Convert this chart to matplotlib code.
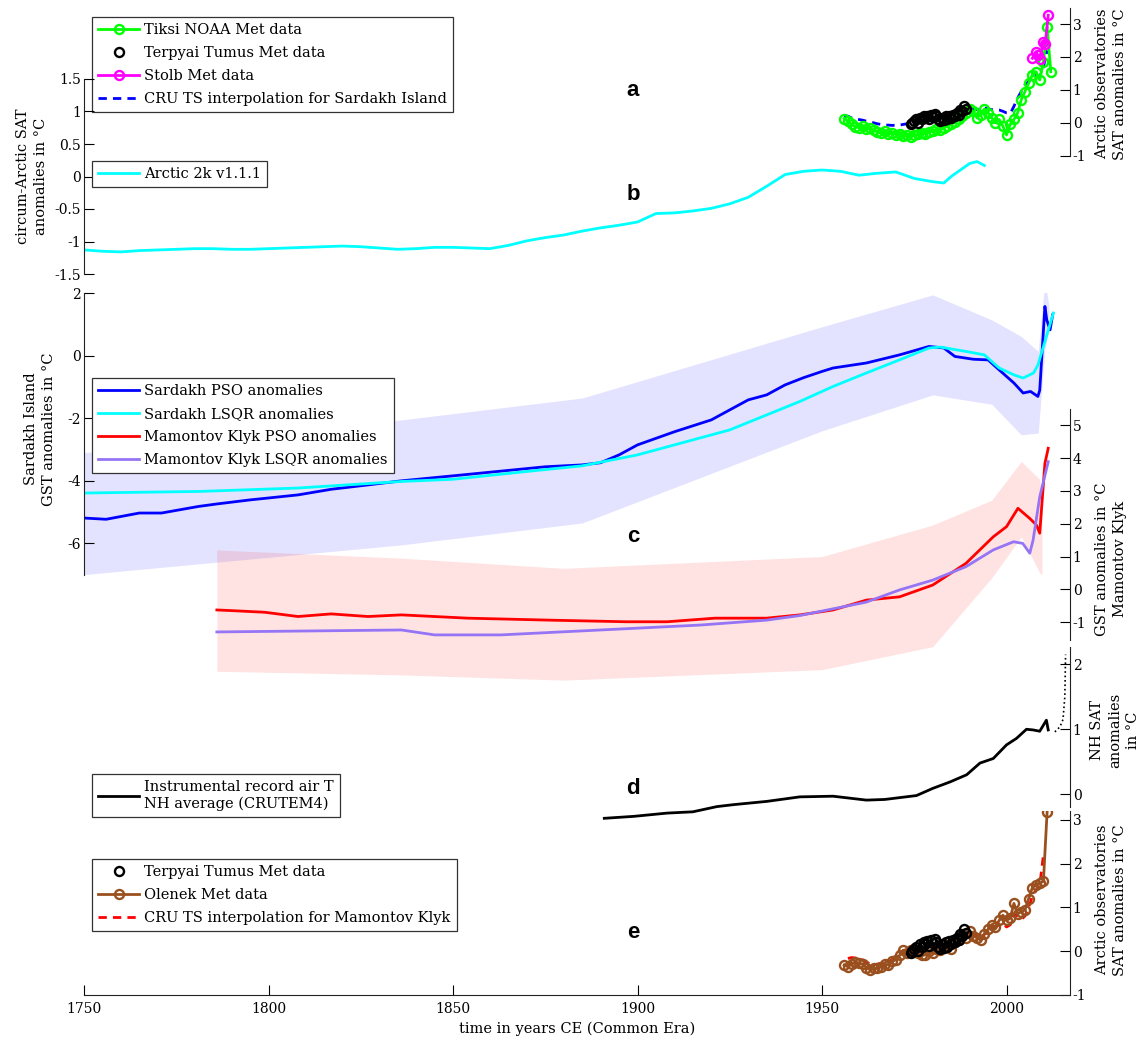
import matplotlib.pyplot as plt
import numpy as np
from matplotlib.ticker import FuncFormatter
from matplotlib.lines import Line2D

plt.rcParams['font.family'] = ['DejaVu Serif']
plt.rcParams['axes.unicode_minus'] = False

W, H = 1143, 1041
X0, X1 = 84, 1070
XLIM = (1750, 2017.2)

# ---- panel a : Arctic observatories near Sardakh ----
tiksi_years = np.arange(1956, 2013)
tiksi = [0.13, 0.05, -0.05, -0.12, -0.15, -0.10, -0.20, -0.17, -0.22, -0.28,
         -0.32, -0.25, -0.35, -0.30, -0.36, -0.33, -0.40, -0.38, -0.42, -0.38,
         -0.35, -0.30, -0.33, -0.28, -0.25, -0.20, -0.22, -0.15, -0.10, -0.05,
         0.02, 0.10, 0.20, 0.30, 0.42, 0.35, 0.15, 0.25, 0.42, 0.30,
         0.15, 0.00, 0.10, -0.10, -0.37, -0.05, 0.10, 0.30, 0.70, 0.95,
         1.20, 1.45, 1.55, 1.30, 1.85, 2.92, 1.55]
terpyai_years = np.arange(1974.0, 1989.5, 0.5)
terpyai = [-0.05, 0.00, 0.05, 0.10, 0.00, 0.15, 0.10, 0.20, 0.15, 0.22,
           0.12, 0.25, 0.18, 0.28, 0.20, 0.10, 0.05, 0.15, 0.08, 0.20,
           0.10, 0.22, 0.15, 0.25, 0.20, 0.30, 0.25, 0.38, 0.35, 0.50, 0.42]
stolb_years = [2007, 2008, 2008.5, 2009, 2010, 2010.5, 2011.3]
stolb = [1.96, 2.16, 2.05, 1.95, 2.46, 2.40, 3.27]
cru_sar_years = np.arange(1956, 2012)
cru_sar = [0.22, 0.20, 0.15, 0.12, 0.10, 0.08, 0.05, 0.03, 0.00, -0.03,
           -0.05, -0.07, -0.07, -0.08, -0.07, -0.07, -0.05, -0.03, 0.00, 0.02,
           0.05, 0.07, 0.10, 0.10, 0.12, 0.12, 0.15, 0.15, 0.18, 0.20,
           0.22, 0.25, 0.30, 0.35, 0.40, 0.42, 0.40, 0.44, 0.45, 0.42,
           0.40, 0.40, 0.39, 0.35, 0.30, 0.28, 0.50, 0.75, 0.95, 1.15,
           1.25, 1.35, 1.45, 1.40, 1.70, 2.20]

# ---- panel b : Arctic 2k ----
a2k_years = [1750, 1755, 1760, 1765, 1770, 1775, 1780, 1785, 1790, 1795,
             1800, 1805, 1810, 1815, 1820, 1825, 1830, 1835, 1840, 1845,
             1850, 1855, 1860, 1865, 1870, 1875, 1880, 1885, 1890, 1895,
             1900, 1905, 1910, 1915, 1920, 1925, 1930, 1935, 1940, 1945,
             1950, 1955, 1960, 1965, 1970, 1975, 1980, 1983, 1985, 1990,
             1992, 1994]
a2k = [-1.13, -1.15, -1.16, -1.14, -1.13, -1.12, -1.11, -1.11, -1.12, -1.12,
       -1.11, -1.10, -1.09, -1.08, -1.07, -1.08, -1.10, -1.12, -1.11, -1.09,
       -1.09, -1.10, -1.11, -1.06, -0.99, -0.94, -0.90, -0.84, -0.79, -0.75,
       -0.70, -0.57, -0.56, -0.53, -0.49, -0.42, -0.32, -0.15, 0.03, 0.08,
       0.10, 0.08, 0.02, 0.05, 0.07, -0.03, -0.08, -0.10, 0.00, 0.20,
       0.23, 0.17]

# ---- panel c : borehole GST reconstructions ----
sar_band_years = [1750, 1836, 1885, 1950, 1980, 1996, 2004, 2008.6, 2010.4, 2011.5]
sar_band_lo = [-7.0, -6.05, -5.35, -2.40, -1.25, -1.55, -2.53, -2.47, 0.2, 0.9]
sar_band_hi = [-3.1, -2.05, -1.35, 0.93, 1.95, 1.15, 0.62, 0.14, 2.43, 1.6]

sar_pso_years = [1750, 1756, 1765, 1771, 1781, 1786, 1795, 1808, 1817, 1827,
                 1836, 1850, 1875, 1885, 1890, 1895, 1900, 1910, 1920, 1925,
                 1930, 1935, 1940, 1945, 1950, 1953, 1962, 1971, 1979, 1983,
                 1986, 1991, 1995, 1998, 2002, 2004.5, 2006.5, 2008.5, 2009,
                 2010.4, 2010.9, 2011.8, 2012.5]
sar_pso = [-5.19, -5.23, -5.03, -5.03, -4.82, -4.74, -4.61, -4.45, -4.27, -4.13,
           -4.00, -3.84, -3.55, -3.49, -3.42, -3.17, -2.85, -2.43, -2.05, -1.73,
           -1.41, -1.25, -0.93, -0.70, -0.50, -0.39, -0.23, 0.03, 0.30, 0.25,
           -0.02, -0.11, -0.13, -0.45, -0.87, -1.19, -1.14, -1.30, -1.10,
           1.58, 1.15, 0.83, 1.31]
sar_lsqr_years = [1750, 1781, 1808, 1836, 1850, 1870, 1885, 1900, 1925, 1944,
                  1953, 1962, 1971, 1979, 1982, 1989, 1994, 1998, 2002, 2004.5,
                  2007.3, 2008.5, 2010, 2012.7]
sar_lsqr = [-4.39, -4.34, -4.23, -4.02, -3.95, -3.70, -3.52, -3.17, -2.37, -1.46,
            -0.98, -0.55, -0.13, 0.25, 0.28, 0.14, 0.03, -0.39, -0.61, -0.71,
            -0.55, -0.30, 0.30, 1.37]

mk_band_years = [1786, 1836, 1880, 1950, 1980, 1996, 2004, 2009, 2009.6]
mk_band_lo = [-2.50, -2.61, -2.77, -2.45, -1.75, 0.35, 1.60, 0.50, 0.44]
mk_band_hi = [1.20, 0.95, 0.64, 1.00, 1.96, 2.72, 3.90, 3.35, 2.60]

mk_pso_years = [1786, 1790, 1799, 1808, 1817, 1827, 1836, 1854, 1876, 1897,
                1908, 1921, 1935, 1944, 1953, 1962, 1971, 1980, 1989, 1996.4,
                2000, 2003.1, 2006.3, 2008.1, 2009, 2010.4, 2011.3]
mk_pso = [-0.63, -0.65, -0.70, -0.83, -0.75, -0.83, -0.78, -0.88, -0.94, -0.99,
          -0.99, -0.88, -0.88, -0.78, -0.63, -0.33, -0.23, 0.13, 0.79, 1.60,
          1.91, 2.47, 2.16, 1.96, 1.71, 3.84, 4.30]
mk_lsqr_years = [1786, 1836, 1845, 1863, 1890, 1917, 1935, 1944, 1962, 1971,
                 1980, 1989, 1996.4, 2001.9, 2004.4, 2006.3, 2007.2, 2009, 2011.3]
mk_lsqr = [-1.30, -1.24, -1.39, -1.39, -1.24, -1.09, -0.94, -0.80, -0.39, -0.02,
           0.28, 0.69, 1.20, 1.45, 1.40, 1.10, 1.50, 2.82, 3.89]

# ---- panel d : CRUTEM4 NH ----
nh_years = [1891, 1899, 1908, 1915, 1921.5, 1926, 1935, 1944, 1953, 1962,
            1967, 1975.6, 1980, 1984.7, 1989.2, 1992.8, 1996.4, 2000, 2002.7,
            2005.4, 2007.2, 2009, 2010.8, 2011.3]
nh = [-0.37, -0.34, -0.29, -0.27, -0.19, -0.16, -0.11, -0.04, -0.03, -0.09,
      -0.08, -0.02, 0.09, 0.19, 0.30, 0.48, 0.55, 0.76, 0.86,
      1.00, 0.99, 0.97, 1.14, 0.99]
nh_dot_years = [2013.1, 2014.5, 2015.3, 2015.8, 2016.0]
nh_dot = [0.96, 1.04, 1.15, 1.50, 2.15]

# ---- panel e : observatories near Mamontov Klyk ----
olenek_years = np.arange(1956, 2012)
olenek = [-0.32, -0.36, -0.30, -0.25, -0.28, -0.30, -0.38, -0.43, -0.38, -0.40,
          -0.36, -0.30, -0.32, -0.24, -0.20, -0.10, 0.02, -0.05, 0.02, 0.00,
          -0.05, -0.10, -0.09, 0.00, -0.05, 0.05, 0.02, 0.10, 0.14, 0.05,
          0.20, 0.25, 0.40, 0.30, 0.45, 0.35, 0.30, 0.25, 0.40, 0.50,
          0.60, 0.55, 0.70, 0.82, 0.70, 0.75, 1.09, 0.85, 0.90, 0.94,
          1.20, 1.45, 1.51, 1.55, 1.60, 3.19]
cru_mk_years = np.arange(1957, 2011)
cru_mk = [-0.17, -0.15, -0.16, -0.18, -0.20, -0.25, -0.30, -0.32, -0.30, -0.28,
          -0.27, -0.25, -0.20, -0.12, -0.05, 0.00, 0.00, 0.02, 0.05, 0.05,
          0.05, 0.08, 0.10, 0.10, 0.12, 0.12, 0.15, 0.18, 0.20, 0.25,
          0.28, 0.32, 0.35, 0.38, 0.40, 0.35, 0.30, 0.38, 0.45, 0.50,
          0.55, 0.60, 0.65, 0.55, 0.60, 0.85, 0.80, 0.72, 0.80, 1.00,
          1.25, 1.40, 1.50, 2.20]

GREEN, MAGENTA, BLUE, CYAN = '#00ff00', '#ff00ff', '#0000ff', '#00ffff'
RED, PURPLE, BROWN = '#ff0000', '#9575f5', '#9a501e'

fig = plt.figure(figsize=(W / 100, H / 100), dpi=100)


def panel(top, bottom, ylim, side, ticks, bounds=None):
    ax = fig.add_axes([X0 / W, 1 - bottom / H, (X1 - X0) / W, (bottom - top) / H])
    ax.set_xlim(*XLIM)
    ax.set_ylim(*ylim)
    ax.patch.set_visible(False)
    for s in ax.spines.values():
        s.set_visible(False)
    sp = ax.spines[side]
    sp.set_visible(True)
    sp.set_color('#222222')
    if bounds:
        sp.set_bounds(*bounds)
    ax.yaxis.set_ticks_position(side)
    ax.set_yticks(ticks)
    ax.yaxis.set_major_formatter(FuncFormatter(lambda v, p: '%g' % v))
    ax.tick_params(axis='y', direction='in', length=7, width=0.8, labelsize=10, pad=2)
    ax.set_xticks([])
    return ax


def legend(ax, handles, labels, x, y):
    leg = ax.legend(handles, labels, loc='upper left',
                    bbox_to_anchor=(x / W, 1 - y / H), bbox_transform=fig.transFigure,
                    borderaxespad=0, fancybox=False, edgecolor='#333333', framealpha=1,
                    fontsize=10.5, handlelength=2.8, handletextpad=0.35, labelspacing=0.62,
                    numpoints=1, borderpad=0.42)
    leg.get_frame().set_linewidth(0.9)
    return leg


mk = dict(marker='o', ms=6.5, mfc='none', mew=1.7)

# panel a
ax_a = panel(7.6, 155.7, (-1, 3.5), 'right', [-1, 0, 1, 2, 3])
l_cru, = ax_a.plot(cru_sar_years, cru_sar, color=BLUE, lw=2, dashes=(3, 2.2))
l_tik, = ax_a.plot(tiksi_years, tiksi, color=GREEN, lw=2, **mk)
l_ter, = ax_a.plot(terpyai_years, terpyai, color='black', ls='none', **mk)
l_sto, = ax_a.plot(stolb_years, stolb, color=MAGENTA, lw=2, **mk)
legend(ax_a, [l_tik, l_ter, l_sto, l_cru],
       ['Tiksi NOAA Met data', 'Terpyai Tumus Met data', 'Stolb Met data',
        'CRU TS interpolation for Sardakh Island'], 92, 17)

# panel b
ax_b = panel(79, 274, (-1.5, 1.5), 'left', [-1.5, -1, -0.5, 0, 0.5, 1, 1.5])
l_a2k, = ax_b.plot(a2k_years, a2k, color=CYAN, lw=2)
legend(ax_b, [l_a2k], ['Arctic 2k v1.1.1'], 92, 161)

# panel c, Sardakh Island
ax_c1 = panel(293.3, 574.6, (-7, 2), 'left', [-6, -4, -2, 0, 2])
ax_c1.fill_between(sar_band_years, sar_band_lo, sar_band_hi, color=BLUE, alpha=0.11, lw=0)
l_sp, = ax_c1.plot(sar_pso_years, sar_pso, color=BLUE, lw=2)
l_sl, = ax_c1.plot(sar_lsqr_years, sar_lsqr, color=CYAN, lw=2)

# panel c, Mamontov Klyk
ax_c2 = panel(408.9, 687.7, (-3, 5.5), 'right', [-1, 0, 1, 2, 3, 4, 5], bounds=(-1.55, 5.5))
ax_c2.fill_between(mk_band_years, mk_band_lo, mk_band_hi, color=RED, alpha=0.11, lw=0)
l_mp, = ax_c2.plot(mk_pso_years, mk_pso, color=RED, lw=2)
l_ml, = ax_c2.plot(mk_lsqr_years, mk_lsqr, color=PURPLE, lw=2)
legend(ax_c1, [l_sp, l_sl, l_mp, l_ml],
       ['Sardakh PSO anomalies', 'Sardakh LSQR anomalies',
        'Mamontov Klyk PSO anomalies', 'Mamontov Klyk LSQR anomalies'], 92, 378)

# panel d
ax_d = panel(646.75, 823.5, (-0.45, 2.27), 'right', [0, 1, 2], bounds=(-0.19, 2.27))
l_nh, = ax_d.plot(nh_years, nh, color='black', lw=2)
ax_d.plot(nh_dot_years, nh_dot, color='black', lw=1.2, ls=':', clip_on=False)
legend(ax_d, [l_nh], ['Instrumental record air T\nNH average (CRUTEM4)'], 92, 774)

# panel e
ax_e = panel(811.2, 994.7, (-1, 3.2), 'right', [-1, 0, 1, 2, 3])
l_cm, = ax_e.plot(cru_mk_years, cru_mk, color=RED, lw=2, dashes=(3, 2.2))
l_ol, = ax_e.plot(olenek_years, olenek, color=BROWN, lw=2, **mk)
l_te, = ax_e.plot(terpyai_years, terpyai, color='black', ls='none', **mk)
legend(ax_e, [l_te, l_ol, l_cm],
       ['Terpyai Tumus Met data', 'Olenek Met data',
        'CRU TS interpolation for Mamontov Klyk'], 92, 859)
ax_e.spines['bottom'].set_visible(True)
ax_e.spines['bottom'].set_color('#222222')
ax_e.set_xticks([1750, 1800, 1850, 1900, 1950, 2000])
ax_e.tick_params(axis='x', direction='in', length=7, width=0.8, labelsize=10, pad=5)
ax_e.set_xlabel('time in years CE (Common Era)', fontsize=10.5, labelpad=4)

# axis titles
ylab = dict(rotation=90, ha='center', va='center', multialignment='center',
            fontsize=10.5, linespacing=1.35)
fig.text(32 / W, 1 - 176 / H, 'circum-Arctic SAT\nanomalies in \u00b0C', **ylab)
fig.text(40 / W, 1 - 429 / H, 'Sardakh Island\nGST anomalies in \u00b0C', **ylab)
fig.text(1111 / W, 1 - 84 / H, 'Arctic observatories\nSAT anomalies in \u00b0C', **ylab)
fig.text(1111 / W, 1 - 559 / H, 'GST anomalies in \u00b0C\nMamontov Klyk', **ylab)
fig.text(1115 / W, 1 - 730 / H, 'NH SAT\nanomalies\nin \u00b0C', **ylab)
fig.text(1111 / W, 1 - 900 / H, 'Arctic observatories\nSAT anomalies in \u00b0C', **ylab)

for lab, yy in zip('abcde', [90, 195, 537, 789, 933]):
    fig.text(633 / W, 1 - yy / H, lab, ha='center', va='center', fontsize=16,
             fontweight='bold', family='Liberation Sans')

fig.savefig('out.png', dpi=100)
